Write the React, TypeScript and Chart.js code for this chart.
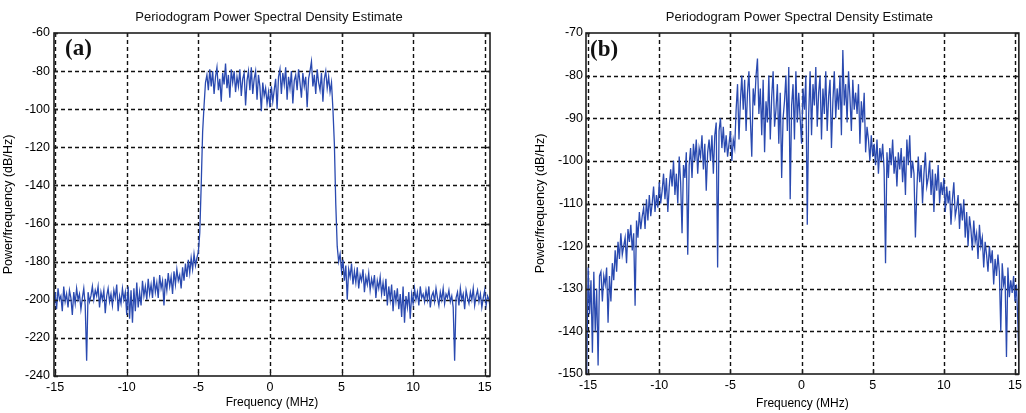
import React, { useEffect, useRef } from "react";
import { Chart, registerables } from "chart.js";

Chart.register(...registerables);

// ---- data ----
const FREQ_START = -15.1; // MHz, first bin
const FREQ_STEP = 0.1; // MHz between bins
const FREQ_TICKS = [-15, -10, -5, 0, 5, 10, 15];
const PSD_TICKS_A = [-240, -220, -200, -180, -160, -140, -120, -100, -80, -60];
const PSD_TICKS_B = [-150, -140, -130, -120, -110, -100, -90, -80, -70];
const TITLE = "Periodogram Power Spectral Density Estimate";
const X_LABEL = "Frequency (MHz)";
const Y_LABEL = "Power/frequency (dB/Hz)";

// panel (a) PSD, dB/Hz
const PSD_A = [
  -203, -196, -205, -194, -200, -198, -206, -193, -201, -197,
  -204, -195, -199, -208, -196, -202, -194, -200, -197, -205,
  -199, -194, -203, -232, -196, -201, -198, -193, -200, -195,
  -198, -193, -204, -196, -200, -195, -207, -198, -194, -201,
  -197, -203, -195, -199, -192, -206, -198, -202, -194, -200,
  -196, -208, -193, -210, -195, -212, -194, -206, -191, -204,
  -196, -203, -190, -198, -193, -200, -189, -197, -192, -199,
  -188, -196, -191, -199, -187, -194, -190, -203, -189, -195,
  -186, -193, -188, -197, -185, -192, -184, -190, -187, -194,
  -183, -190, -181, -188, -179, -186, -178, -184, -176, -182,
  -178, -175, -165, -140, -112, -98, -86, -82, -90, -79,
  -88, -80, -92, -83, -78, -90, -84, -96, -81, -87,
  -76, -89, -82, -94, -79, -86, -80, -91, -83, -88,
  -79, -93, -84, -81, -98, -85, -80, -90, -78, -92,
  -84, -80, -95, -82, -88, -101, -86, -93, -89, -97,
  -91, -99, -88, -96, -90, -84, -100, -83, -79, -92,
  -81, -87, -78, -95, -83, -89, -80, -97, -85, -82,
  -90, -79, -86, -94, -81, -88, -83, -99, -84, -80,
  -75, -88, -82, -92, -79, -86, -90, -81, -96, -84,
  -80, -89, -83, -91, -86, -100, -118, -150, -172, -180,
  -176, -185, -179, -190, -182, -200, -184, -188, -181, -192,
  -185, -191, -183, -194, -187, -190, -184, -196, -188, -192,
  -186, -195, -189, -193, -187, -199, -190, -194, -188, -197,
  -191, -198, -189, -203, -193, -200, -192, -206, -195, -201,
  -194, -205, -197, -209, -193, -212, -198, -204, -196, -210,
  -197, -202, -194, -200, -196, -203, -193, -199, -197, -201,
  -195, -200, -193, -204, -198, -196, -201, -194, -199, -203,
  -196, -200, -194, -202, -197, -199, -195, -201, -198, -204,
  -232, -199, -196, -203, -194, -200, -197, -205, -195, -199,
  -202, -196, -200, -194, -203, -198, -195, -201, -197, -204,
  -199, -195, -203, -198, -200, -206,
];

// panel (b) PSD, dB/Hz
const PSD_B = [
  -150, -125, -136, -128, -145, -126, -140, -130, -148, -127,
  -126, -133, -127, -129, -125, -138, -127, -133, -124, -128,
  -121, -126, -119, -123, -117, -122, -120, -118, -124, -116,
  -119, -115, -121, -117, -134, -114, -118, -112, -116, -113,
  -111, -116, -109, -114, -108, -113, -110, -106, -112, -108,
  -111, -105, -110, -107, -103, -109, -104, -112, -106, -102,
  -106, -100, -108, -103, -110, -99, -105, -117, -101, -104,
  -98, -122, -101, -97, -104, -96, -100, -95, -103, -97,
  -99, -94, -102, -96, -107, -98, -95, -100, -94, -103,
  -94, -91, -125, -93, -90, -97, -92, -98, -94, -99,
  -96, -93, -100, -95, -97, -88, -82, -95, -86, -80,
  -88, -81, -93, -84, -79, -90, -99, -83, -87, -80,
  -76, -89, -83, -94, -81, -98, -86, -91, -80, -95,
  -85, -79, -92, -88, -82, -96, -84, -104, -90, -86,
  -80, -93, -78, -109, -87, -82, -95, -79, -91, -84,
  -90, -96, -83, -88, -80, -115, -89, -79, -94, -82,
  -87, -78, -92, -84, -80, -95, -83, -89, -79, -93,
  -85, -81, -97, -86, -79, -90, -83, -88, -80, -94,
  -74, -87, -82, -91, -79, -85, -93, -81, -88, -84,
  -89, -82, -96, -86, -91, -84, -98, -92, -95, -100,
  -94, -99, -96, -101, -95, -103, -97, -100, -96, -102,
  -124, -98, -104, -97, -101, -95, -103, -99, -106, -98,
  -102, -97, -105, -99, -108, -95, -101, -94, -104, -100,
  -103, -118, -107, -99, -105, -101, -110, -103, -98, -106,
  -104, -100, -108, -102, -112, -103, -107, -101, -110, -105,
  -108, -104, -112, -106, -110, -107, -115, -109, -105, -113,
  -111, -108, -116, -110, -114, -109, -118, -112, -120, -113,
  -116, -121, -114, -119, -117, -123, -115, -120, -118, -125,
  -119, -122, -126, -120, -124, -121, -129, -123, -127, -122,
  -126, -140, -124, -129, -127, -146, -125, -132, -128, -131,
  -127, -133, -129, -138, -150, -148,
];

// ---- styling ----
const FONT = '"Liberation Sans", Arial, Helvetica, sans-serif';
const TAG_FONT = 'bold 23px "Liberation Serif", "Times New Roman", serif';
const LINE_COLOR = "#2a4ab0";
const GRID_COLOR = "#111111";

const matlabPlugin = {
  id: "matlab",
  beforeDatasetsDraw(chart: any) {
    const { ctx, chartArea: a, scales } = chart;
    const x = scales.x;
    const y = scales.y;
    ctx.save();
    ctx.strokeStyle = GRID_COLOR;
    ctx.lineWidth = 1.4;
    ctx.setLineDash([4, 3]);
    ctx.beginPath();
    for (const t of x.ticks) {
      const px = Math.round(x.getPixelForValue(t.value)) + 0.5;
      ctx.moveTo(px, a.top);
      ctx.lineTo(px, a.bottom);
    }
    for (const t of y.ticks) {
      const py = Math.round(y.getPixelForValue(t.value)) + 0.5;
      if (py <= a.top + 1 || py >= a.bottom - 1) continue;
      ctx.moveTo(a.left, py);
      ctx.lineTo(a.right, py);
    }
    ctx.stroke();
    ctx.restore();
  },
  afterDraw(chart: any, _args: any, opts: any) {
    const { ctx, chartArea: a, scales } = chart;
    const x = scales.x;
    const y = scales.y;
    ctx.save();
    // axes box
    ctx.strokeStyle = "#1e1e1e";
    ctx.lineWidth = 1.6;
    ctx.setLineDash([]);
    ctx.strokeRect(a.left, a.top, a.right - a.left, a.bottom - a.top);
    // inward tick marks
    ctx.lineWidth = 1.3;
    ctx.beginPath();
    for (const t of x.ticks) {
      const px = Math.round(x.getPixelForValue(t.value)) + 0.5;
      ctx.moveTo(px, a.bottom);
      ctx.lineTo(px, a.bottom - 4);
      ctx.moveTo(px, a.top);
      ctx.lineTo(px, a.top + 4);
    }
    for (const t of y.ticks) {
      const py = Math.round(y.getPixelForValue(t.value)) + 0.5;
      ctx.moveTo(a.left, py);
      ctx.lineTo(a.left + 4, py);
      ctx.moveTo(a.right, py);
      ctx.lineTo(a.right - 4, py);
    }
    ctx.stroke();
    // title
    ctx.fillStyle = "#111";
    ctx.font = `13px ${FONT}`;
    ctx.textAlign = "center";
    ctx.textBaseline = "middle";
    ctx.fillText(TITLE, (a.left + a.right) / 2 + opts.titleDx, 17);
    // panel tag
    ctx.font = TAG_FONT;
    ctx.textAlign = "left";
    ctx.fillText(opts.tag, a.left + opts.tagDx, a.top + opts.tagDy);
    ctx.restore();
  },
};

type PanelProps = {
  values: number[];
  yTicks: number[];
  xMin: number;
  xMax: number;
  padRight: number;
  yAxisW: number;
  xAxisH: number;
  yTickPad: number;
  yTitlePad: number;
  xTitlePad: number;
  tag: string;
  tagDx: number;
  tagDy: number;
  titleDx: number;
};

function Panel(p: PanelProps) {
  const ref = useRef<HTMLCanvasElement | null>(null);
  useEffect(() => {
    if (!ref.current) return;
    const points = p.values.map((v, i) => ({
      x: +(FREQ_START + i * FREQ_STEP).toFixed(2),
      y: v,
    }));
    const tickFont = { family: FONT, size: 12.5 };
    const chart = new Chart(ref.current, {
      type: "line",
      data: {
        datasets: [
          {
            data: points,
            borderColor: LINE_COLOR,
            borderWidth: 1.3,
            pointRadius: 0,
            tension: 0,
            fill: false,
          },
        ],
      },
      options: {
        responsive: false,
        animation: false,
        events: [],
        layout: { padding: { top: 33, right: p.padRight, left: 0, bottom: 0 } },
        plugins: {
          legend: { display: false },
          tooltip: { enabled: false },
          title: { display: false },
          matlab: { tag: p.tag, tagDx: p.tagDx, tagDy: p.tagDy, titleDx: p.titleDx },
        } as any,
        scales: {
          x: {
            type: "linear",
            min: p.xMin,
            max: p.xMax,
            grid: { display: false, drawTicks: false },
            border: { display: false },
            afterFit: (s: any) => {
              s.height = p.xAxisH;
            },
            afterBuildTicks: (s: any) => {
              s.ticks = FREQ_TICKS.map((v) => ({ value: v }));
            },
            ticks: {
              color: "#000",
              font: tickFont,
              padding: 4,
              maxRotation: 0,
              autoSkip: false,
              callback: (v: any) => String(v),
            },
            title: {
              display: true,
              text: X_LABEL,
              color: "#000",
              font: { family: FONT, size: 12 },
              padding: { top: 0, bottom: p.xTitlePad },
            },
          },
          y: {
            type: "linear",
            min: p.yTicks[0],
            max: p.yTicks[p.yTicks.length - 1],
            grid: { display: false, drawTicks: false },
            border: { display: false },
            afterFit: (s: any) => {
              s.width = p.yAxisW;
            },
            afterBuildTicks: (s: any) => {
              s.ticks = p.yTicks.map((v) => ({ value: v }));
            },
            ticks: {
              color: "#000",
              font: tickFont,
              padding: p.yTickPad,
              autoSkip: false,
              callback: (v: any) => String(v),
            },
            title: {
              display: true,
              text: Y_LABEL,
              color: "#000",
              font: { family: FONT, size: 12.5 },
              padding: { top: p.yTitlePad, bottom: 0 },
            },
          },
        },
      } as any,
      plugins: [matlabPlugin as any],
    });
    return () => chart.destroy();
  }, []);
  return <canvas ref={ref} width={513} height={413} style={{ display: "block" }} />;
}

export default function App() {
  return (
    <div
      style={{
        position: "absolute",
        left: 0,
        top: 0,
        width: 1026,
        height: 413,
        background: "#fff",
        overflow: "hidden",
      }}
    >
      <div style={{ position: "absolute", left: 0, top: 0, width: 513, height: 413 }}>
        <Panel
          values={PSD_A}
          yTicks={PSD_TICKS_A}
          xMin={-15.08}
          xMax={15.37}
          padRight={23}
          yAxisW={54}
          xAxisH={37}
          yTickPad={4}
          yTitlePad={1}
          xTitlePad={3}
          tag="(a)"
          tagDx={11}
          tagDy={16}
          titleDx={-3}
        />
      </div>
      <div style={{ position: "absolute", left: 513, top: 0, width: 513, height: 413 }}>
        <Panel
          values={PSD_B}
          yTicks={PSD_TICKS_B}
          xMin={-15.15}
          xMax={15.27}
          padRight={4}
          yAxisW={73}
          xAxisH={39}
          yTickPad={3}
          yTitlePad={20}
          xTitlePad={2}
          tag="(b)"
          tagDx={4}
          tagDy={17}
          titleDx={-3}
        />
      </div>
    </div>
  );
}
